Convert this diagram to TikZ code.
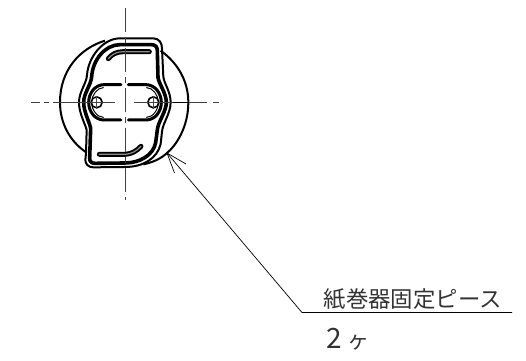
\documentclass[tikz,border=0pt]{standalone}
\usepackage{fontspec}
\newfontfamily\cjk{Noto Sans CJK JP}
\tikzset{
 center line/.style={line width=1pt,black!75,dash pattern=on 24pt off 5pt on 6pt off 5pt},
 outline/.style={line width=2pt,line join=round},
 heavy/.style={line width=3.6pt,line join=round},
 slot/.style={line width=5pt,line cap=round},
 slotcore/.style={line width=1.2pt,line cap=round,black!45},
 slotline/.style={line cap=round},
 thin leader/.style={line width=0.7pt},
 label/.style={inner sep=0pt,anchor=base west,text=black!80}
}
\begin{document}
\begin{tikzpicture}[x=1pt,y=-1pt]
\useasboundingbox (0,0) rectangle (526,360);
\fill[white] (0,0) rectangle (526,360);
% center lines
\coordinate (vt) at (125,8);
\coordinate (vb) at (125,200);
\coordinate (hl) at (31,102.5);
\coordinate (hr) at (219,102.5);
\begin{scope}[shift={(40,20)},x=0.3333pt,y=-0.3333pt]
% base circle arcs
\draw[outline] (140,398) .. controls (90,365) and (60,310) .. (60,247) .. controls (60,150) and (120,85) .. (195,62);
\draw[outline] (362,92) .. controls (415,130) and (445,185) .. (445,247) .. controls (445,320) and (410,375) .. (380,400) .. controls (360,418) and (335,428) .. (310,433);
\draw[line width=1.6pt] (60,247) -- (115,247) (392,247) -- (445,247);
% body outer line
\draw[outline] (240,55) -- (340,55) .. controls (358,55) and (366,70) .. (366,85) -- (370,170) .. controls (372,190) and (392,215) .. (392,247) .. controls (392,280) and (368,310) .. (366,335) -- (362,372) .. controls (352,415) and (310,441) .. (255,441) -- (160,442) .. controls (145,442) and (136,432) .. (136,420) -- (138,400) -- (140,330) .. controls (135,310) and (117,280) .. (117,247) .. controls (117,215) and (140,190) .. (141,165) .. controls (145,110) and (190,55) .. (240,55) -- cycle;
% body heavy line
\draw[heavy] (240,74) -- (335,74) .. controls (347,74) and (352,82) .. (352,92) -- (354,172) .. controls (356,190) and (379,220) .. (379,247) .. controls (379,275) and (354,305) .. (352,330) -- (347,368) .. controls (340,405) and (300,429) .. (255,429) -- (165,430) .. controls (155,430) and (149,425) .. (149,415) -- (152,325) .. controls (148,305) and (131,275) .. (131,247) .. controls (131,220) and (153,195) .. (155,170) .. controls (158,120) and (195,74) .. (240,74) -- cycle;
% top slot
\draw[slot] (205,116) .. controls (215,104) and (228,95) .. (250,95) -- (328,95);
\draw[slotcore] (205,116) .. controls (215,104) and (228,95) .. (250,95) -- (328,95);
% bottom slot
\draw[slot] (178,403) -- (255,403) .. controls (275,402) and (290,393) .. (303,379);
\draw[slotcore] (178,403) -- (255,403) .. controls (275,402) and (290,393) .. (303,379);
% middle obround
\draw[slotline,line width=3pt] (243,194) -- (192,194) .. controls (165,194) and (146,220) .. (146,247) .. controls (146,275) and (165,300) .. (192,300) -- (243,300);
\draw[slotline,line width=3pt] (265,194) -- (318,194) .. controls (345,194) and (364,220) .. (364,247) .. controls (364,275) and (345,300) .. (318,300) -- (265,300);
\draw[slotline,line width=1pt] (190,203) .. controls (172,203) and (155,225) .. (155,247) .. controls (155,270) and (172,292) .. (190,292);
\draw[slotline,line width=1pt] (320,203) .. controls (338,203) and (355,225) .. (355,247) .. controls (355,270) and (338,292) .. (320,292);
% screw holes
\node[circle,draw,line width=1.6pt,minimum size=11pt,inner sep=0pt,fill=white] (h1) at (170,247) {};
\node[circle,draw,line width=1.6pt,minimum size=11pt,inner sep=0pt,fill=white] (h2) at (340,247) {};
\draw[line width=0.9pt,black!70] (h1.north) -- (h1.south) (h1.west) -- (h1.east) (h2.north) -- (h2.south) (h2.west) -- (h2.east);
\end{scope}
\draw[center line] (vt) -- (vb);
\draw[center line,dash pattern=on 9pt off 4pt on 5pt off 4pt on 62pt off 19pt on 39pt off 16pt on 18pt off 6pt on 9pt off 4pt on 9pt off 100pt] (hl) -- (hr);
% leader
\coordinate (tip) at (167,153);
\coordinate (bend) at (302,312.5);
\coordinate (end) at (512,312.5);
\coordinate (a1) at (186,164);
\coordinate (a2) at (174.5,173);
\draw[thin leader] (tip) -- (bend) -- (end);
\draw[thin leader] (a1) -- (tip) -- (a2);
\node[label,font=\cjk\fontsize{22.4}{22}\selectfont] (t1) at (323.5,307) {紙巻器固定ピース};
\node[label,font=\cjk\fontsize{28}{28}\selectfont] (t2) at (326,348) {2};
\node[label,font=\cjk\fontsize{22}{22}\selectfont] (t3) at (347,348) {ヶ};
\end{tikzpicture}
\end{document}
